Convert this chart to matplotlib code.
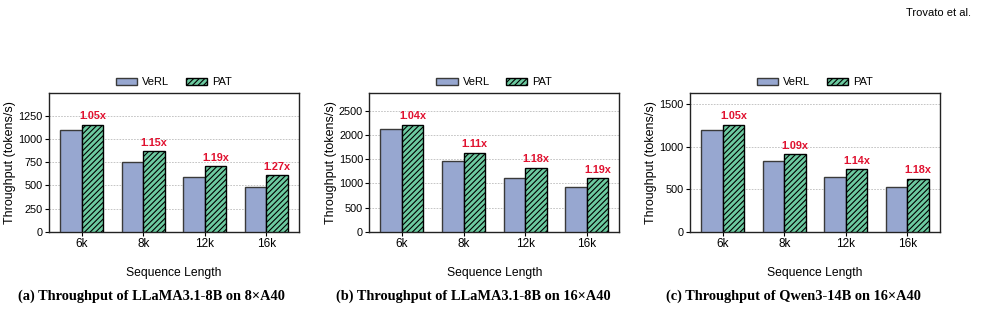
import matplotlib
matplotlib.use("Agg")
import matplotlib.pyplot as plt
import numpy as np

plt.rcParams['hatch.linewidth'] = 0.8
plt.rcParams['font.family'] = ['Liberation Sans', 'DejaVu Sans']

categories = ["6k", "8k", "12k", "16k"]
series_names = ["VeRL", "PAT"]

verl_a = [1100, 750, 590, 480]
pat_a = [1150, 865, 705, 610]
speedup_a = ["1.05x", "1.15x", "1.19x", "1.27x"]
yticks_a = [0, 250, 500, 750, 1000, 1250]

verl_b = [2120, 1470, 1120, 930]
pat_b = [2205, 1630, 1320, 1110]
speedup_b = ["1.04x", "1.11x", "1.18x", "1.19x"]
yticks_b = [0, 500, 1000, 1500, 2000, 2500]

verl_c = [1200, 840, 645, 530]
pat_c = [1260, 915, 735, 625]
speedup_c = ["1.05x", "1.09x", "1.14x", "1.18x"]
yticks_c = [0, 500, 1000, 1500]

captions = [
    "(a) Throughput of LLaMA3.1-8B on 8\u00d7A40",
    "(b) Throughput of LLaMA3.1-8B on 16\u00d7A40",
    "(c) Throughput of Qwen3-14B on 16\u00d7A40",
]

panels = [
    (verl_a, pat_a, speedup_a, yticks_a),
    (verl_b, pat_b, speedup_b, yticks_b),
    (verl_c, pat_c, speedup_c, yticks_c),
]

W, H = 983, 310
fig = plt.figure(figsize=(W / 100, H / 100), dpi=100)

lefts = [49, 369.3, 690]
ax_w = 250
ax_top = 92.7
ax_bot = 232
caption_x = [151.5, 473, 793]

verl_color = "#97a7d0"
pat_color = "#6ccaa0"
red = "#e0112f"

for i, (verl, pat, sp, yt) in enumerate(panels):
    ax = fig.add_axes([lefts[i] / W, 1 - ax_bot / H, ax_w / W, (ax_bot - ax_top) / H])
    x = np.arange(len(categories))
    w = 0.35
    ax.bar(x - w / 2, verl, w, color=verl_color, edgecolor="#3a3a3a", linewidth=1.0,
           label=series_names[0], zorder=3)
    ax.bar(x + w / 2, pat, w, color=pat_color, edgecolor="black", linewidth=1.0,
           hatch="//////", label=series_names[1], zorder=3)
    for xi, v, s in zip(x, pat, sp):
        ax.annotate(s, (xi + w / 2, v), xytext=(0, 2.5), textcoords="offset points",
                    ha="center", va="bottom", color=red, fontsize=7.8, fontweight="bold")
    ax.set_xlim(-0.53, 3.53)
    ax.set_ylim(0, max(pat) * 1.3)
    ax.set_yticks(yt)
    ax.set_xticks(x)
    ax.set_xticklabels(categories)
    ax.tick_params(axis="y", labelsize=7.8, length=3, width=0.8, pad=1.5, colors="black")
    ax.tick_params(axis="x", labelsize=8.5, length=3, width=0.8, pad=1.5, colors="black")
    ax.yaxis.grid(True, linestyle=(0, (2, 1.5)), color="#bbbbbb", linewidth=0.6, zorder=0)
    ax.set_axisbelow(True)
    for sp_ in ax.spines.values():
        sp_.set_linewidth(1.0)
        sp_.set_color("#222222")
    ax.set_ylabel("Throughput (tokens/s)", fontsize=9, labelpad=1.5)
    ax.set_xlabel("Sequence Length", fontsize=8.7, labelpad=12)
    ax.legend(loc="lower center", bbox_to_anchor=(0.5, 1.0), ncol=2, frameon=False,
              fontsize=8, handlelength=1.9, handleheight=0.65, columnspacing=1.5,
              handletextpad=0.45, borderaxespad=0.1)
    fig.text(caption_x[i] / W, 1 - 296 / H, captions[i], ha="center", va="center",
             fontsize=10.4, fontweight="bold", family=["Liberation Serif", "DejaVu Serif"])

fig.text(971 / W, 1 - 13 / H, "Trovato et al.", ha="right", va="center", fontsize=8)

fig.savefig("out.png", dpi=100)
